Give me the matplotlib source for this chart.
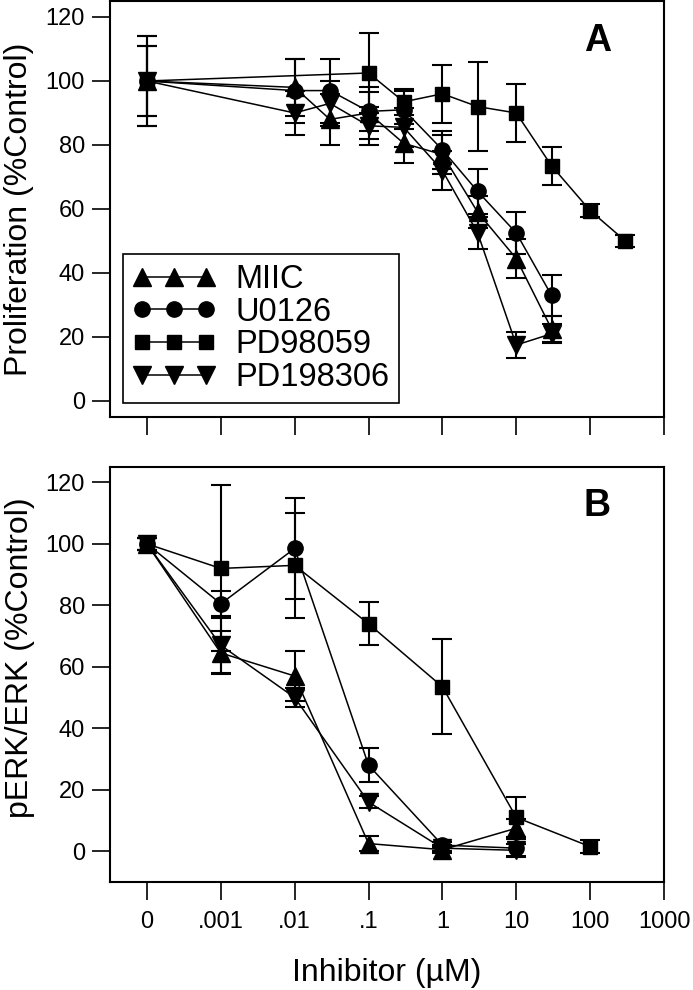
import numpy as np
import matplotlib
matplotlib.use('Agg')
import matplotlib.pyplot as plt

plt.rcParams['font.family'] = ['Liberation Sans', 'DejaVu Sans']

# concentrations (uM); 0 = control
ctrl_pos = 1e-4
tick_vals = [1e-4, 1e-3, 1e-2, 1e-1, 1, 10, 100, 1000]
tick_labels = ['0', '.001', '.01', '.1', '1', '10', '100', '1000']

series_names = ['MIIC', 'U0126', 'PD98059', 'PD198306']
series_markers = ['^', 'o', 's', 'v']
series_msize = [13, 11, 10, 13]

# panel A: proliferation
conc_a = [0, 0.01, 0.03, 0.1, 0.3, 1, 3, 10, 30]
conc_a_pd98 = [0, 0.1, 0.3, 1, 3, 10, 30, 100, 300]
miic_a = [100, 98, 88, 90, 80.5, 77, 59, 44.5, 22.5]
miic_a_err = [11, 9, 8, 8, 6, 6, 5, 6, 4]
u0126_a = [100, 97, 97, 90.5, 91, 78.5, 65.5, 52.5, 33]
u0126_a_err = [14, 10, 10, 6, 6, 6, 7, 6.5, 6.5]
pd98_a = [100, 102.5, 93.5, 96, 92, 90, 73.5, 59.5, 50]
pd98_a_err = [14, 12.5, 4, 9, 14, 9, 6, 2, 2]
pd19_a = [100, 90, 93, 86, 85.5, 72, 52.5, 17.5, 21]
pd19_a_err = [11, 7, 7, 6, 6, 6, 5, 4, 3]

# panel B: pERK/ERK
conc_b = [0, 0.001, 0.01, 0.1, 1, 10]
conc_b_pd98 = [0, 0.001, 0.01, 0.1, 1, 10, 100]
miic_b = [100, 64.5, 57, 2.5, 0.5, 7.5]
miic_b_err = [2, 7, 8, 2.5, 1, 3]
u0126_b = [100, 80.5, 98.5, 28, 2, 1]
u0126_b_err = [2, 4, 16.5, 5.5, 1, 3]
pd98_b = [100, 92, 93, 74, 53.5, 11, 1.5]
pd98_b_err = [2, 27, 17, 7, 15.5, 6.5, 2]
pd19_b = [100, 67, 50, 16, 1, 0.3]
pd19_b_err = [2, 9, 3, 2, 1, 2]

panel_a = [(conc_a, miic_a, miic_a_err), (conc_a, u0126_a, u0126_a_err),
           (conc_a_pd98, pd98_a, pd98_a_err), (conc_a, pd19_a, pd19_a_err)]
panel_b = [(conc_b, miic_b, miic_b_err), (conc_b, u0126_b, u0126_b_err),
           (conc_b_pd98, pd98_b, pd98_b_err), (conc_b, pd19_b, pd19_b_err)]


def xpos(c):
    return [v if v > 0 else ctrl_pos for v in c]


fig = plt.figure(figsize=(6.93, 9.9), dpi=100)
ax_a = fig.add_axes([0.1587, 0.5788, 0.7995, 0.4202])
ax_b = fig.add_axes([0.1587, 0.1091, 0.7995, 0.4192])

for ax, data in [(ax_a, panel_a), (ax_b, panel_b)]:
    for (c, y, e), name, m, ms in zip(data, series_names, series_markers, series_msize):
        ax.errorbar(xpos(c), y, yerr=e, color='black', marker=m, markersize=ms,
                    linewidth=1.1, elinewidth=1.5, capsize=7.5, capthick=1.5,
                    label=name)
    ax.set_xscale('log')
    ax.set_xlim(10 ** -4.5, 1000)
    ax.set_xticks(tick_vals)
    ax.xaxis.set_minor_locator(matplotlib.ticker.NullLocator())
    ax.set_yticks([0, 20, 40, 60, 80, 100, 120])
    ax.tick_params(direction='out', length=13, width=1.2, labelsize=17, pad=5)
    for s in ax.spines.values():
        s.set_linewidth(1.5)

ax_a.set_ylim(-5, 125)
ax_b.set_ylim(-10, 125)
ax_a.set_xticklabels([])
ax_b.set_xticklabels(tick_labels)
ax_b.tick_params(axis='x', pad=8)

ax_a.set_ylabel('Proliferation (%Control)', fontsize=23)
ax_b.set_ylabel('pERK/ERK (%Control)', fontsize=23)
ax_a.yaxis.set_label_coords(-0.137, 0.5)
ax_b.yaxis.set_label_coords(-0.135, 0.54)
ax_b.set_xlabel('Inhibitor (µM)', fontsize=23, labelpad=18)

ax_a.text(0.88, 0.905, 'A', transform=ax_a.transAxes, fontsize=27,
          fontweight='bold', ha='center', va='center')
ax_b.text(0.88, 0.905, 'B', transform=ax_b.transAxes, fontsize=27,
          fontweight='bold', ha='center', va='center')

handles, labels = ax_a.get_legend_handles_labels()
handles = [h[0] for h in handles]
leg = ax_a.legend(handles, labels, loc='lower left', bbox_to_anchor=(0.023, 0.034),
                  borderaxespad=0, fontsize=23.5, numpoints=3, handlelength=2.55,
                  labelspacing=0.05, handletextpad=0.6, borderpad=0.3,
                  fancybox=False, framealpha=1)
leg.get_frame().set_edgecolor('black')
leg.get_frame().set_linewidth(1.2)

fig.savefig('out.png', dpi=100)
